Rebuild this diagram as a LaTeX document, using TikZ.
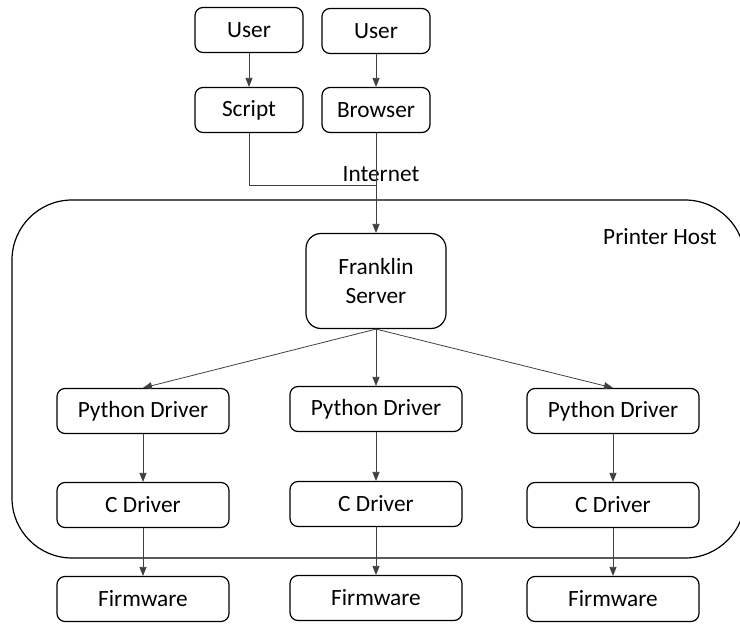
\documentclass[tikz,border=0pt]{standalone}
\usepackage{fontspec}
\setmainfont{Carlito}
\usetikzlibrary{arrows.meta,calc,positioning}

\begin{document}
\begin{tikzpicture}[x=1pt,y=-1pt,
  every node/.style={font=\fontsize{23.3}{29}\selectfont},
  box/.style={draw,rounded corners=8pt,line width=1.2pt,minimum width=172pt,minimum height=45pt,inner sep=0pt},
  ubox/.style={box,minimum width=108pt},
  conn/.style={-{Triangle[length=9pt,width=7pt]},draw=black!75,line width=0.8pt}]
\useasboundingbox (0,0) rectangle (740,624);
% printer host
\draw[line width=1.2pt,rounded corners=60pt] (12,200) rectangle (745,558);
\node (host) at (660,237) {Printer Host};
% clients
\node[ubox] (user1) at (249,30) {User};
\node[ubox] (user2) at (376,31) {User};
\node[ubox] (script) at (249,110) {Script};
\node[ubox] (browser) at (376,110) {Browser};
\node (inet) at (381,174) {Internet};
\coordinate (join) at (376,185);
% server
\node[box,rounded corners=15pt,minimum width=140pt,minimum height=95pt,align=center] (server) at (376,281) {Franklin\\Server};
% drivers
\node[box] (py1) at (143,411) {Python Driver};
\node[box] (py2) at (376,409) {Python Driver};
\node[box] (py3) at (613,411) {Python Driver};
\node[box] (cd1) at (143,505) {C Driver};
\node[box] (cd2) at (376,504) {C Driver};
\node[box] (cd3) at (613,505) {C Driver};
\node[box] (fw1) at (143,599) {Firmware};
\node[box] (fw2) at (376,598) {Firmware};
\node[box] (fw3) at (613,599) {Firmware};
% connectors
\draw[conn] (user1) -- (script);
\draw[conn] (user2) -- (browser);
\draw[draw=black!75,line width=0.8pt] (script.south) |- (join);
\draw[conn] (browser) -- (server);
\draw[conn] (server.south) -- (py1.north);
\draw[conn] (server.south) -- (py2.north);
\draw[conn] (server.south) -- (py3.north);
\draw[conn] (py1) -- (cd1);
\draw[conn] (py2) -- (cd2);
\draw[conn] (py3) -- (cd3);
\draw[conn] (cd1) -- (fw1);
\draw[conn] (cd2) -- (fw2);
\draw[conn] (cd3) -- (fw3);
\end{tikzpicture}
\end{document}
